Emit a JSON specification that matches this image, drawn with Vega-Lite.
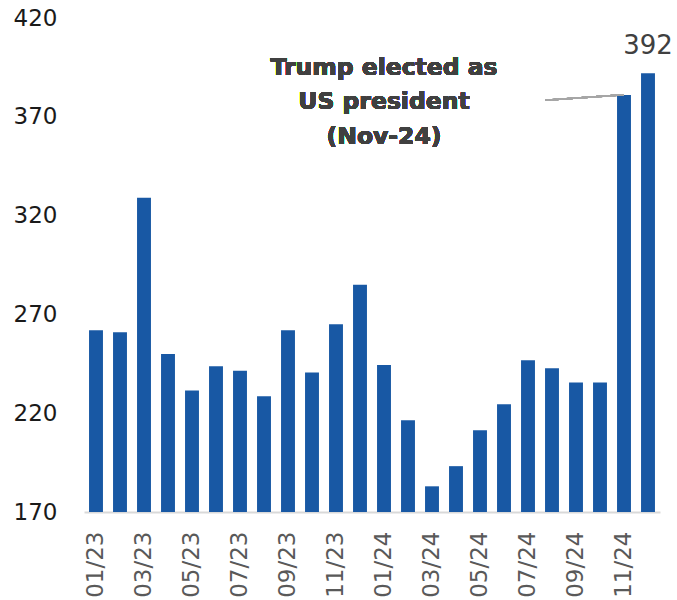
{
  "$schema": "https://vega.github.io/schema/vega-lite/v6.json",
  "width": 576,
  "height": 494,
  "autosize": {"type": "none"},
  "padding": {"left": 84, "top": 18, "right": 17, "bottom": 88},
  "background": "white",
  "config": {"view": {"stroke": null}, "font": "DejaVu Sans"},
  "data": {"values": [
    {"month": "01/23", "value": 262},
    {"month": "02/23", "value": 261},
    {"month": "03/23", "value": 329},
    {"month": "04/23", "value": 250},
    {"month": "05/23", "value": 231.5},
    {"month": "06/23", "value": 243.7},
    {"month": "07/23", "value": 241.5},
    {"month": "08/23", "value": 228.6},
    {"month": "09/23", "value": 262},
    {"month": "10/23", "value": 240.6},
    {"month": "11/23", "value": 265},
    {"month": "12/23", "value": 285},
    {"month": "01/24", "value": 244.4},
    {"month": "02/24", "value": 216.4},
    {"month": "03/24", "value": 183},
    {"month": "04/24", "value": 193.2},
    {"month": "05/24", "value": 211.4},
    {"month": "06/24", "value": 224.5},
    {"month": "07/24", "value": 246.8},
    {"month": "08/24", "value": 242.7},
    {"month": "09/24", "value": 235.5},
    {"month": "10/24", "value": 235.5},
    {"month": "11/24", "value": 381},
    {"month": "12/24", "value": 392}
  ]},
  "encoding": {
    "x": {
      "field": "month", "type": "ordinal", "sort": null,
      "scale": {"paddingInner": 0.42, "paddingOuter": 0.21},
      "axis": {
        "title": null, "labelAngle": -90, "ticks": false,
        "values": ["01/23","03/23","05/23","07/23","09/23","11/23","01/24","03/24","05/24","07/24","09/24","11/24"],
        "labelFont": "DejaVu Sans", "labelFontSize": 23, "labelColor": "#595959",
        "labelPadding": 19, "domainColor": "#D9D9D9", "domainWidth": 2
      }
    },
    "y": {
      "field": "value", "type": "quantitative",
      "scale": {"domain": [170, 420], "zero": false, "nice": false},
      "axis": {
        "title": null, "grid": false, "domain": false, "ticks": false,
        "values": [170, 220, 270, 320, 370, 420],
        "labelFont": "DejaVu Sans", "labelFontSize": 23, "labelColor": "#1a1a1a",
        "labelPadding": 27
      }
    }
  },
  "layer": [
    {
      "mark": {"type": "bar", "color": "#1858A4"},
      "encoding": {"y2": {"datum": 170}}
    },
    {
      "transform": [{"filter": "datum.month == '12/24'"}],
      "mark": {"type": "text", "baseline": "bottom", "dy": -14, "fontSize": 26, "color": "#404040", "font": "DejaVu Sans"},
      "encoding": {"text": {"field": "value", "type": "quantitative"}}
    },
    {
      "mark": {"type": "rule", "color": "#A6A6A6", "strokeWidth": 1.5},
      "encoding": {
        "x": {"datum": "08/24", "bandPosition": 0},
        "x2": {"datum": "11/24"},
        "y": {"datum": 378.4},
        "y2": {"datum": 381.2}
      }
    },
    {
      "mark": {"type": "text", "align": "center", "baseline": "middle", "fontSize": 23.5, "fontWeight": "bold", "color": "#404040", "font": "DejaVu Sans", "lineHeight": 34.5,
        "text": ["Trump elected as", "US president", "(Nov-24)"]},
      "encoding": {
        "x": {"datum": "01/24"},
        "y": {"datum": 394.7}
      }
    }
  ]
}
